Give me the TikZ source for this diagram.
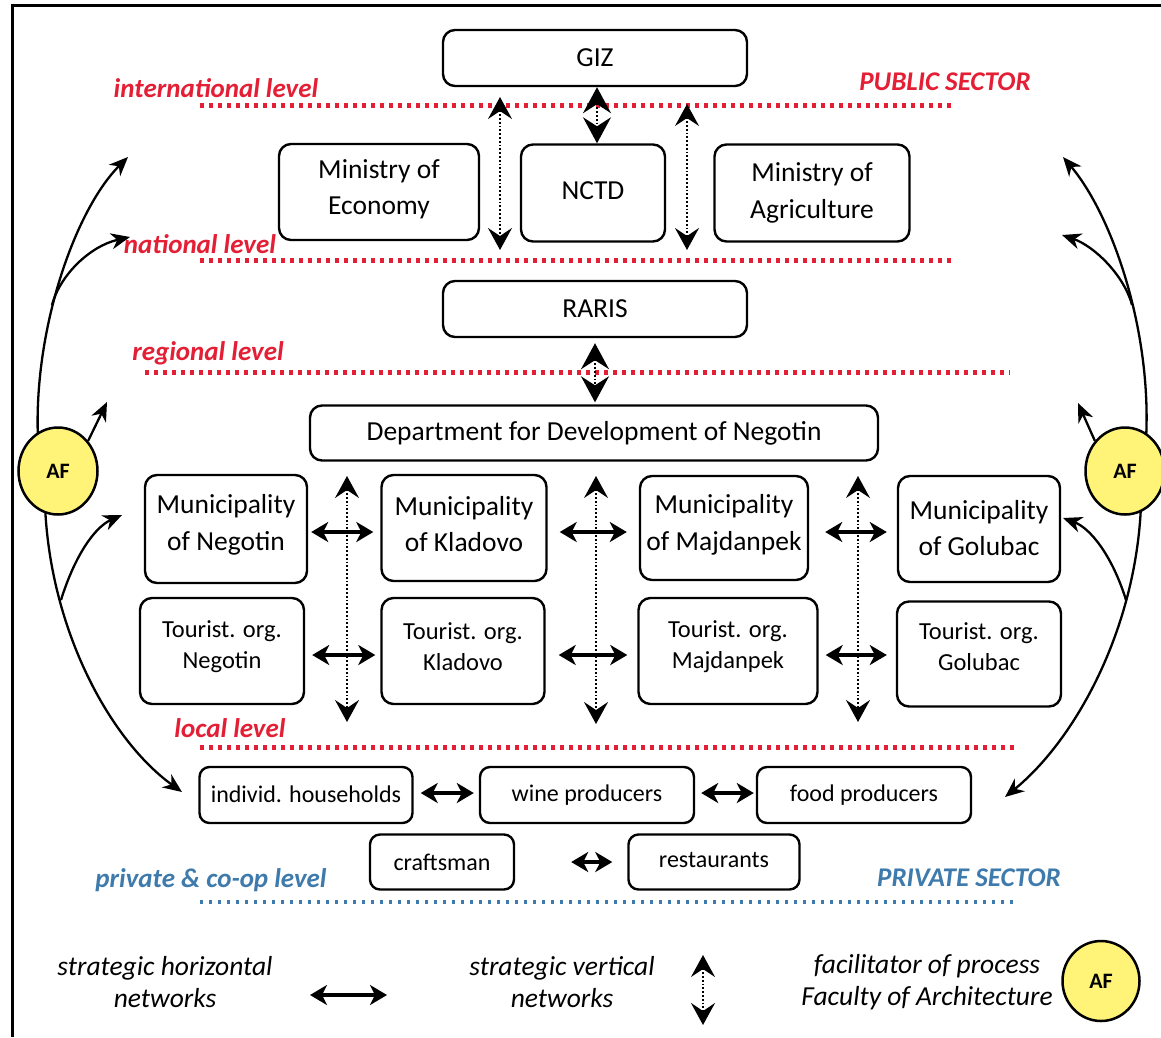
\documentclass[tikz,border=0pt]{standalone}
\usepackage{fontspec}
\setmainfont{Carlito}
\usetikzlibrary{arrows.meta,shapes.geometric}
\definecolor{lvred}{RGB}{228,30,52}
\definecolor{lvblue}{RGB}{62,122,172}
\definecolor{afyel}{RGB}{255,244,120}
\begin{document}
\begin{tikzpicture}[x=1pt,y=-1pt,
  box/.style={draw, rounded corners=12pt, line width=2.4pt, inner sep=0pt, align=center, font=\fontsize{27.5}{37}\selectfont},
  btext/.style={align=center, inner sep=0pt, font=\fontsize{27.5}{36.5}\selectfont},
  ttext/.style={align=center, inner sep=0pt, font=\fontsize{24.5}{31}\selectfont},
  sbox/.style={box, rounded corners=10pt, font=\fontsize{24}{28}\selectfont},
  lvline/.style={lvred, line width=5pt, dash pattern=on 4pt off 5pt},
  pvline/.style={lvblue, line width=4pt, dash pattern=on 3pt off 6pt},
  lvlabel/.style={text=lvred, font=\fontsize{27}{30}\selectfont\bfseries\itshape, inner sep=0pt},
  pvlabel/.style={text=lvblue, font=\fontsize{27}{30}\selectfont\bfseries\itshape, inner sep=0pt},
  hnet/.style={line width=3.2pt, {Stealth[length=17pt,width=20pt,inset=5pt]}-{Stealth[length=17pt,width=20pt,inset=5pt]}},
  vnet/.style={line width=1.8pt, dotted, {Stealth[length=22pt,width=24pt,inset=8pt]}-{Stealth[length=22pt,width=24pt,inset=8pt]}},
  vnetbig/.style={line width=1.8pt, dotted, {Stealth[length=26pt,width=28pt,inset=9pt]}-{Stealth[length=26pt,width=28pt,inset=9pt]}},
  afarc/.style={line width=2.3pt, -{Stealth[length=19pt,width=16pt,inset=6pt]}},
  afcirc/.style={draw, line width=2.5pt, fill=afyel, ellipse, inner sep=0pt, font=\fontsize{22}{24}\selectfont\bfseries},
  legend/.style={align=center, font=\fontsize{27.5}{32}\selectfont\itshape, inner sep=0pt}
]
\useasboundingbox (0,0) rectangle (1161,1037);
\fill[white] (0,0) rectangle (1161,1037);
\draw[line width=3pt] (1161,5) -- (12,5) -- (12,1037);

% level lines
\draw[lvline] (200,105) -- (955,105);
\draw[lvline] (200,260) -- (955,260);
\draw[lvline] (145,372) -- (1010,372);
\draw[lvline] (200,747) -- (1015,747);
\draw[pvline] (200,902) -- (1015,902);

\node[lvlabel] (lint) at (216,88) {international level};
\node[lvlabel] (lnat) at (200,244) {national level};
\node[lvlabel] (lreg) at (208,353) {regional level};
\node[lvlabel] (lloc) at (230,728) {local level};
\node[pvlabel] (lpriv) at (211,880) {private \& co-op level};
\node[lvlabel] (pub) at (945,82) {PUBLIC SECTOR};
\node[pvlabel] (prv) at (969,878) {PRIVATE SECTOR};

% boxes
\node[box, minimum width=304, minimum height=56] (giz) at (595,58) {GIZ};
\node[box, minimum width=200, minimum height=96] (me) at (379,192) {};
\node[btext] (met) at ([yshift=3pt]me.center) {Ministry of\\Economy};
\node[box, minimum width=144, minimum height=97] (nctd) at (593,193) {\raisebox{5pt}{NCTD}};
\node[box, minimum width=195, minimum height=97] (ma) at (812,193) {};
\node[btext] (mat) at (ma.center) {Ministry of\\Agriculture};
\node[box, minimum width=304, minimum height=56] (raris) at (595,309) {RARIS};
\node[box, minimum width=568, minimum height=55] (dept) at (594,433) {Department for Development of Negotin};

\node[box, minimum width=162, minimum height=108] (mun1) at (226,529) {};
\node[box, minimum width=165, minimum height=106] (mun2) at (464,528) {};
\node[box, minimum width=168, minimum height=104] (mun3) at (724,528) {};
\node[box, minimum width=162, minimum height=106] (mun4) at (979,529) {};
\node[btext] (mun1t) at ([yshift=4pt]mun1.center) {Municipality\\of Negotin};
\node[btext] (mun2t) at ([yshift=4pt]mun2.center) {Municipality\\of Kladovo};
\node[btext] (mun3t) at ([yshift=3pt]mun3.center) {Municipality\\of Majdanpek};
\node[btext] (mun4t) at ([yshift=1pt]mun4.center) {Municipality\\of Golubac};

\node[box, minimum width=164, minimum height=106] (to1) at (222,651) {};
\node[box, minimum width=163, minimum height=106] (to2) at (463,651) {};
\node[box, minimum width=179, minimum height=106] (to3) at (728,651) {};
\node[box, minimum width=164, minimum height=105] (to4) at (979,654) {};
\node[ttext] (to1t) at ([yshift=4pt]to1.center) {Tourist. org.\\Negotin};
\node[ttext] (to2t) at ([yshift=4pt]to2.center) {Tourist. org.\\Kladovo};
\node[ttext] (to3t) at ([yshift=4pt]to3.center) {Tourist. org.\\Majdanpek};
\node[ttext] (to4t) at ([yshift=7pt]to4.center) {Tourist. org.\\Golubac};

\node[sbox, minimum width=213, minimum height=56] (hh) at (306,795) {\raisebox{2pt}{individ. households}};
\node[sbox, minimum width=214, minimum height=56] (wine) at (587,795) {\raisebox{2pt}{wine producers}};
\node[sbox, minimum width=214, minimum height=56] (food) at (864,795) {\raisebox{2pt}{food producers}};
\node[sbox, minimum width=144, minimum height=55] (craft) at (442,862) {\raisebox{-4pt}{craftsman}};
\node[sbox, minimum width=171, minimum height=55] (rest) at (714,862) {\raisebox{4pt}{restaurants}};

% horizontal networks
\draw[hnet, shorten <=3pt, shorten >=7pt] ([yshift=-3pt]mun1.east) -- ([yshift=-3pt]mun1.east -| mun2.west);
\draw[hnet, shorten <=12pt, shorten >=12pt] ([yshift=-4pt]mun2.east) -- ([yshift=-4pt]mun3.west);
\draw[hnet, shorten <=16pt, shorten >=10pt] ([yshift=-4pt]mun3.east) -- ([yshift=-4pt]mun3.east -| mun4.west);
\draw[hnet, shorten <=7pt, shorten >=5pt] ([yshift=-4pt]to1.east) -- ([yshift=-4pt]to2.west);
\draw[hnet, shorten <=13pt, shorten >=10pt] ([yshift=-4pt]to2.east) -- ([yshift=-4pt]to3.west);
\draw[hnet, shorten <=7pt, shorten >=9pt] ([yshift=-4pt]to3.east) -- ([yshift=-4pt]to3.east -| to4.west);
\draw[hnet, shorten <=7pt, shorten >=5pt] ([yshift=2pt]hh.east) -- ([yshift=2pt]wine.west);
\draw[hnet, shorten <=6pt, shorten >=2pt] ([yshift=2pt]wine.east) -- ([yshift=2pt]food.west);
\draw[hnet, shorten <=56pt, shorten >=15pt] (craft.east) -- (rest.west);

% vertical networks
\coordinate (v1a) at (500,97);  \coordinate (v1b) at (500,250);
\coordinate (v3a) at (687,104); \coordinate (v3b) at (687,250);
\draw[vnet] (v1a) -- (v1b);
\draw[vnet] (v3a) -- (v3b);
\draw[vnetbig] ([xshift=2pt]giz.south) -- ([xshift=2pt]giz.south |- nctd.north);
\draw[vnetbig, shorten <=5pt, shorten >=2pt] (raris.south) -- (raris.south |- dept.north);
\coordinate (c1a) at (347,476); \coordinate (c1b) at (347,722);
\coordinate (c2a) at (596,476); \coordinate (c2b) at (596,724);
\coordinate (c3a) at (858,476); \coordinate (c3b) at (858,722);
\draw[vnet] (c1a) -- (c1b);
\draw[vnet] (c2a) -- (c2b);
\draw[vnet] (c3a) -- (c3b);

% facilitator arcs, left
\coordinate (lt1) at (128,157); \coordinate (lt2) at (130,237);
\coordinate (lt3) at (107,402); \coordinate (lt4) at (122,515);
\coordinate (lt5) at (182,792);
\draw[afarc] (38,440) .. controls (33,330) and (75,210) .. (lt1);
\draw[afarc] (52,305) .. controls (60,275) and (90,246) .. (lt2);
\draw[afarc] (45,505) .. controls (50,630) and (110,740) .. (lt5);
\draw[afarc] (61,600) .. controls (75,555) and (95,527) .. (lt4);
% right
\coordinate (rt1) at (1063,157); \coordinate (rt2) at (1062,235);
\coordinate (rt3) at (1078,403); \coordinate (rt4) at (1063,518);
\coordinate (rt5) at (1005,797);
\draw[afarc] (1146,440) .. controls (1152,330) and (1112,215) .. (rt1);
\draw[afarc] (1132,305) .. controls (1124,275) and (1094,246) .. (rt2);
\draw[afarc] (1141,505) .. controls (1136,630) and (1075,740) .. (rt5);
\draw[afarc] (1126,600) .. controls (1112,555) and (1090,528) .. (rt4);

\node[afcirc, minimum width=79, minimum height=87] (afL) at (58,471) {AF};
\node[afcirc, minimum width=79, minimum height=87] (afR) at (1125,471) {AF};
\draw[afarc] (afL.45) -- (lt3);
\draw[afarc] (afR.135) -- (rt3);

% legend
\node[legend] (lg1) at (165,982) {strategic horizontal\\networks};
\coordinate (lh1) at (310,995); \coordinate (lh2) at (387,995);
\draw[hnet] (lh1) -- (lh2);
\node[legend] (lg2) at (562,982) {strategic vertical\\networks};
\coordinate (lv1) at (703,955); \coordinate (lv2) at (703,1025);
\draw[vnet] (lv1) -- (lv2);
\node[legend] (lg3) at (927,982) {facilitator of process\\Faculty of Architecture};
\node[afcirc, minimum width=77, minimum height=80] (afK) at (1101,981) {AF};
\end{tikzpicture}
\end{document}
